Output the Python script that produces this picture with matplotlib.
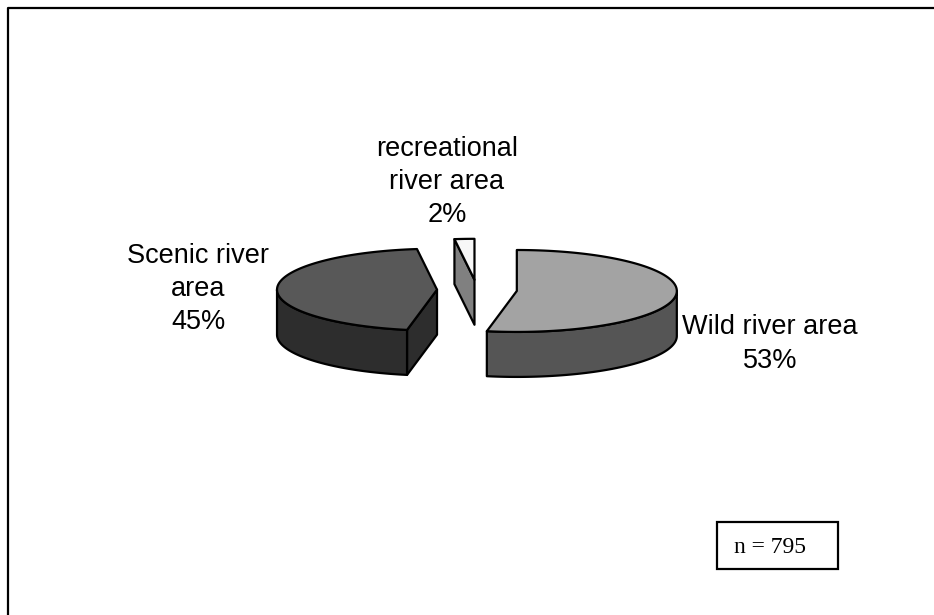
import matplotlib.pyplot as plt
from matplotlib.patches import Polygon, Rectangle
import numpy as np

# datos del grafico
areas = ['Wild river area', 'Scenic river\narea', 'recreational\nriver area']
porcentajes = [53, 45, 2]
colores_arriba = ['#a3a3a3', '#585858', '#f7f7f7']
colores_lado = ['#555555', '#2d2d2d', '#808080']
n_total = 795

# geometria de la torta 3D (en pixeles)
cx, cy = 477, 290      # centro sin separar
R = 160                # radio horizontal
k = 0.256              # achatamiento (ry / rx)
alto = 45              # espesor
sep = 40               # separacion de las porciones


def punto(centro, ang, abajo=0):
    a = np.radians(ang)
    return (centro[0] + R * np.sin(a), centro[1] - R * np.cos(a) * k + abajo)


def arco(centro, a0, a1, abajo=0):
    angs = np.linspace(a0, a1, max(int(abs(a1 - a0)) + 2, 3))
    return [punto(centro, a, abajo) for a in angs]


fig = plt.figure(figsize=(9.34, 6.15), dpi=100)
ax = fig.add_axes([0, 0, 1, 1])
ax.set_xlim(0, 934)
ax.set_ylim(615, 0)
ax.axis('off')

# borde del area del grafico
ax.plot([8, 8, 934], [615, 8, 8], color='black', lw=1.6, solid_capstyle='butt')

# calcular angulos de cada porcion (en sentido horario desde las 12)
total = sum(porcentajes)
limites = np.concatenate([[0], np.cumsum(porcentajes)]) / total * 360
porciones = []
for i in range(len(porcentajes)):
    a0, a1 = limites[i], limites[i + 1]
    medio = np.radians((a0 + a1) / 2)
    centro = (cx + sep * np.sin(medio), cy - sep * np.cos(medio) * k)
    porciones.append((i, a0, a1, centro))

# dibujar de atras hacia adelante
porciones.sort(key=lambda p: p[3][1])
lw = 1.6
for i, a0, a1, c in porciones:
    z = 2 + 0.1 * c[1]
    # caras radiales (solo las que miran hacia adelante)
    for ang, signo in ((a0, -90), (a1, 90)):
        if np.cos(np.radians(ang + signo)) < -1e-6:
            p1 = punto(c, ang)
            cara = [c, p1, (p1[0], p1[1] + alto), (c[0], c[1] + alto)]
            ax.add_patch(Polygon(cara, closed=True, facecolor=colores_lado[i],
                                 edgecolor='black', lw=lw, joinstyle='round', zorder=z))
    # pared exterior visible (entre 90 y 270 grados)
    lo, hi = max(a0, 90), min(a1, 270)
    if hi > lo:
        pared = arco(c, lo, hi) + arco(c, hi, lo, alto)
        ax.add_patch(Polygon(pared, closed=True, facecolor=colores_lado[i],
                             edgecolor='black', lw=lw, joinstyle='round', zorder=z))
    # cara de arriba
    tapa = [c] + arco(c, a0, a1)
    ax.add_patch(Polygon(tapa, closed=True, facecolor=colores_arriba[i],
                         edgecolor='black', lw=lw, joinstyle='round', zorder=z + 0.05))

# etiquetas de datos
pos_etiquetas = [(770, 344), (198, 289), (447, 182)]
for nombre, pct, (x, y) in zip(areas, porcentajes, pos_etiquetas):
    ax.text(x, y, f'{nombre}\n{pct}%', ha='center', va='center',
            fontsize=19.5, family='Liberation Sans', linespacing=1.36, zorder=10)

# cuadro con n
ax.add_patch(Rectangle((717, 522), 121, 47, facecolor='white', edgecolor='black', lw=1.6, zorder=10))
ax.text(770, 553, f'n = {n_total}', ha='center', va='baseline',
        fontsize=17, family='Liberation Serif', zorder=11)

fig.savefig('out.png', dpi=100)
